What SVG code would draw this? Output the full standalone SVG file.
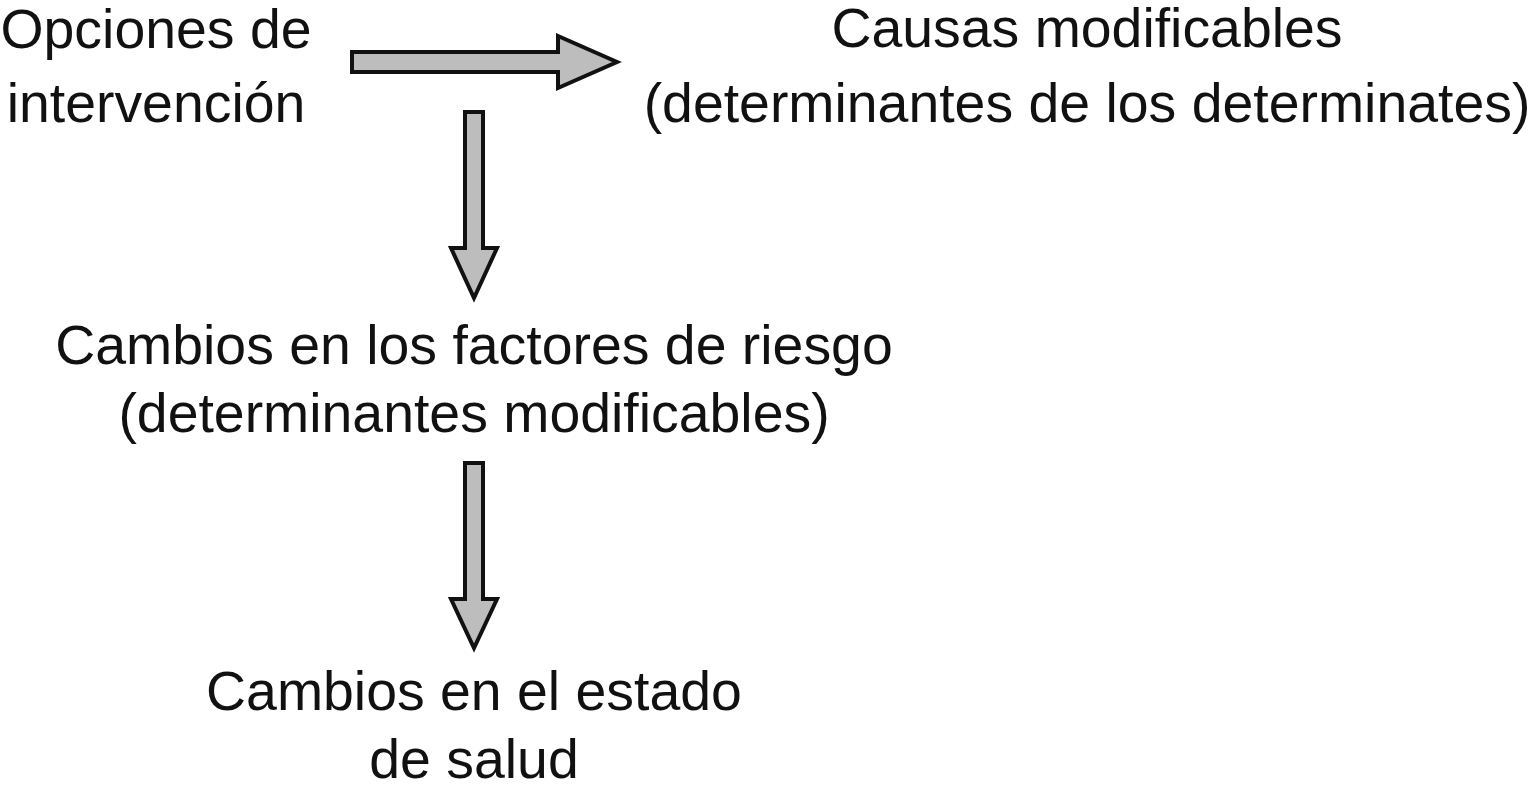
<svg xmlns="http://www.w3.org/2000/svg" width="1532" height="797" viewBox="0 0 1532 797">
<style>
text{font-family:"Liberation Sans",Arial,sans-serif;font-size:55.4px;fill:#111;text-anchor:middle}
.arrow{fill:#bdbdbd;stroke:#111;stroke-width:4;stroke-linejoin:miter}
</style>
<rect width="1532" height="797" fill="#fff"/>
<g id="opciones"><text x="156" y="48">Opciones de</text><text x="156" y="122">intervención</text></g>
<g id="causas"><text x="1087" y="47">Causas modificables</text><text x="1087" y="122">(determinantes de los determinates)</text></g>
<g id="factores"><text x="474" y="364">Cambios en los factores de riesgo</text><text x="474" y="432">(determinantes modificables)</text></g>
<g id="salud"><text x="474" y="710">Cambios en el estado</text><text x="474" y="778">de salud</text></g>
<g id="connectors">
<polygon class="arrow" points="352,52 558,52 558,36 617,62 558,88 558,72 352,72"/>
<polygon class="arrow" points="465,112 483,112 483,248 497,248 474,298 451,248 465,248"/>
<polygon class="arrow" points="465,463 483,463 483,599 497,599 474,648 451,599 465,599"/>
</g>
</svg>
